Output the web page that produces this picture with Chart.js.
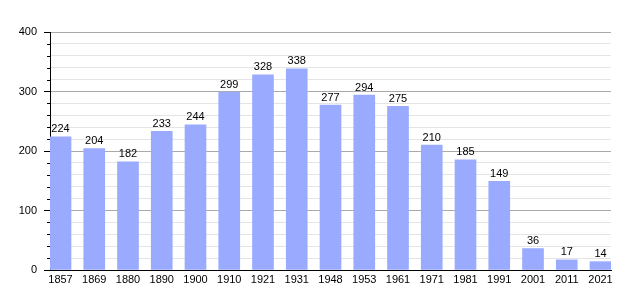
<!DOCTYPE html>
<html>
<head>
<meta charset="utf-8">
<script src="https://cdn.jsdelivr.net/npm/chart.js@4"></script>
<style>
  html, body { margin: 0; padding: 0; background: #fff; }
  #wrap { width: 640px; height: 300px; }
</style>
</head>
<body>
<div id="wrap"><canvas id="popChart"></canvas></div>
<script>
// Années et population
const years = ['1857', '1869', '1880', '1890', '1900', '1910', '1921', '1931', '1948',
  '1953', '1961', '1971', '1981', '1991', '2001', '2011', '2021'];
const population = [224, 204, 182, 233, 244, 299, 328, 338, 277, 294, 275, 210, 185, 149, 36, 17, 14];
const yTicks = [0, 100, 200, 300, 400];

// Etiquettes au-dessus des barres + petites graduations
const valueLabels = {
  id: 'valueLabels',
  afterDatasetsDraw(chart) {
    const ctx = chart.ctx;
    const meta = chart.getDatasetMeta(0);
    ctx.save();
    ctx.font = '11px "Liberation Sans", Arial, sans-serif';
    ctx.fillStyle = '#000';
    ctx.textAlign = 'center';
    ctx.textBaseline = 'bottom';
    meta.data.forEach(function (bar, i) {
      ctx.fillText(population[i], bar.x, bar.y - 2);
    });
    // graduations mineures, plus courtes
    const y = chart.scales.y;
    ctx.strokeStyle = '#000';
    ctx.lineWidth = 1;
    y.ticks.forEach(function (t) {
      if (yTicks.includes(t.value)) return;
      const py = Math.round(y.getPixelForValue(t.value)) + 0.5;
      ctx.beginPath();
      ctx.moveTo(y.right - 3, py);
      ctx.lineTo(y.right, py);
      ctx.stroke();
    });
    ctx.restore();
  }
};

new Chart(document.getElementById('popChart'), {
  type: 'bar',
  data: {
    datasets: [{
      data: population.map(function (v, i) { return { x: i, y: v }; }),
      backgroundColor: '#99aaff',
      barThickness: 21,
      borderWidth: 0
    }]
  },
  options: {
    responsive: true,
    maintainAspectRatio: false,
    animation: false,
    layout: { padding: { left: 0, right: 29, top: 32, bottom: 0 } },
    plugins: { legend: { display: false }, tooltip: { enabled: false } },
    scales: {
      x: {
        type: 'linear',
        offset: false,
        min: -0.311,
        max: 16.311,
        grid: { display: false, offset: false, drawTicks: false, tickLength: 0 },
        border: { color: '#000', width: 1 },
        afterFit: function (scale) {
          scale.height = 30;
          scale.paddingLeft = 0;
          scale.paddingRight = 0;
        },
        ticks: {
          stepSize: 1,
          includeBounds: false,
          autoSkip: false,
          maxRotation: 0,
          padding: 3,
          color: '#000',
          font: { family: '"Liberation Sans", Arial, sans-serif', size: 11 },
          callback: function (v) { return years[v] !== undefined && Number.isInteger(v) ? years[v] : ''; }
        }
      },
      y: {
        min: 0,
        max: 400,
        afterFit: function (scale) { scale.width = 50; },
        border: { color: '#000', width: 1 },
        grid: {
          tickLength: 6,
          tickColor: function (c) { return yTicks.includes(c.tick.value) ? '#000' : 'rgba(0,0,0,0)'; },
          color: function (c) { return c.tick.value % 100 === 0 ? '#aaaaaa' : '#e4e4e4'; },
          lineWidth: 1
        },
        ticks: {
          stepSize: 20,
          autoSkip: false,
          padding: 7,
          color: '#000',
          font: { family: '"Liberation Sans", Arial, sans-serif', size: 11 },
          callback: function (v) { return yTicks.includes(v) ? v : ''; }
        }
      }
    }
  },
  plugins: [valueLabels]
});
</script>
</body>
</html>
